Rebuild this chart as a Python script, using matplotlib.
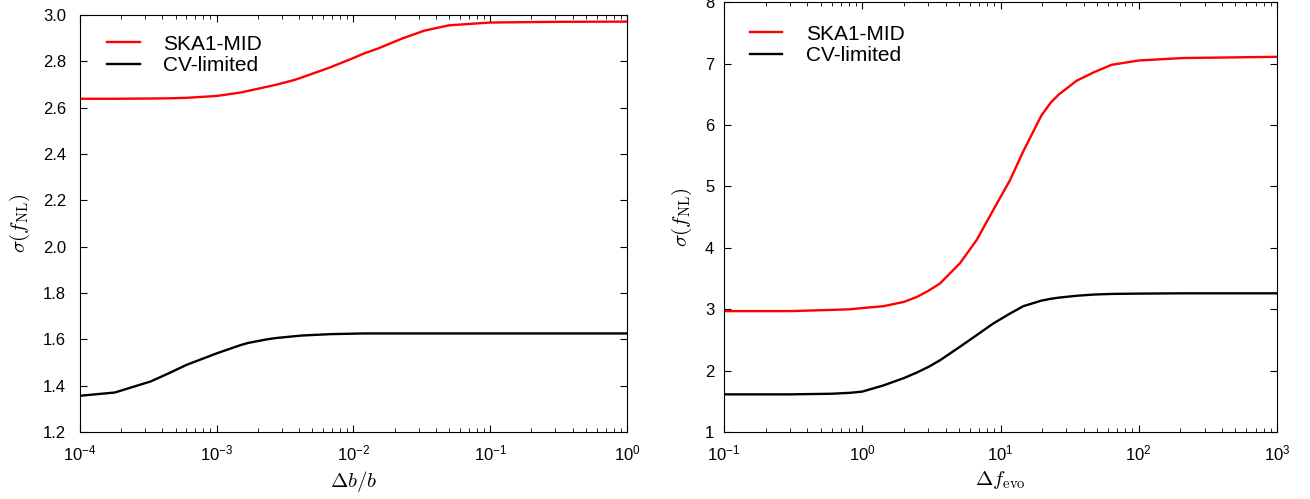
import matplotlib
matplotlib.use("Agg")
import matplotlib.pyplot as plt
from matplotlib.ticker import FuncFormatter, NullLocator
import numpy as np

plt.rcParams['font.family'] = ['Liberation Sans', 'DejaVu Sans']
plt.rcParams['mathtext.fontset'] = 'cm'

# left panel: sigma(fNL) vs Delta b / b
db_x = [1.0e-4, 1.8e-4, 3.3e-4, 4.5e-4, 6.0e-4, 1.0e-3, 1.5e-3, 1.7e-3, 2.3e-3,
        2.7e-3, 3.7e-3, 4.2e-3, 6.8e-3, 1.0e-2, 1.2e-2, 1.5e-2, 2.27e-2, 3.3e-2,
        5.0e-2, 1.0e-1, 3.0e-1, 1.0]
db_ska = [2.639, 2.639, 2.640, 2.641, 2.643, 2.651, 2.666, 2.673, 2.690,
          2.699, 2.720, 2.731, 2.775, 2.815, 2.835, 2.855, 2.899, 2.933,
          2.956, 2.968, 2.971, 2.972]
db_cv = [1.357, 1.371, 1.419, 1.455, 1.490, 1.540, 1.576, 1.585, 1.600,
         1.606, 1.614, 1.617, 1.623, 1.625, 1.626, 1.626, 1.626, 1.626,
         1.626, 1.626, 1.626, 1.626]

# right panel: sigma(fNL) vs Delta f_evo
fe_x = [0.1, 0.3, 0.6, 0.815, 1.0, 1.42, 2.0, 2.48, 3.0, 3.65, 5.09, 6.73, 8.88,
        11.7, 14.6, 19.7, 23.0, 26.5, 35.5, 47.5, 63.6, 100.0, 207.0, 1000.0]
fe_ska = [2.97, 2.97, 2.99, 3.00, 3.02, 3.05, 3.12, 3.20, 3.30, 3.42, 3.75, 4.13, 4.62,
          5.10, 5.57, 6.15, 6.36, 6.50, 6.72, 6.86, 6.98, 7.05, 7.09, 7.11]
fe_cv = [1.615, 1.615, 1.625, 1.64, 1.66, 1.76, 1.88, 1.97, 2.06, 2.17, 2.39, 2.58, 2.77,
         2.93, 3.05, 3.14, 3.17, 3.19, 3.22, 3.24, 3.25, 3.255, 3.26, 3.26]

labels = ["SKA1-MID", "CV-limited"]
colors = ["red", "black"]


def pow_fmt(v, pos):
    e = int(round(np.log10(v)))
    return r"$\mathregular{10^{%d}}$" % e


def style(ax, ypad):
    ax.set_xscale("log")
    ax.tick_params(which="both", direction="in", top=True, right=True, labelsize=12)
    ax.tick_params(which="major", length=5)
    ax.tick_params(which="minor", length=3)
    ax.xaxis.set_major_formatter(FuncFormatter(pow_fmt))
    ax.yaxis.set_minor_locator(NullLocator())
    ax.tick_params(axis="x", pad=8)
    ax.tick_params(axis="y", pad=ypad)


def add_legend(ax, anchor):
    ax.legend(loc="upper left", bbox_to_anchor=anchor, borderaxespad=0,
              frameon=False, fontsize=15, handlelength=1.57, handletextpad=1.12,
              labelspacing=0.13)


fig = plt.figure(figsize=(13.1, 4.99), dpi=100)

# left
ax1 = fig.add_axes([0.061, 0.134, 0.4176, 0.8357])
ax1.plot(db_x, db_ska, color=colors[0], lw=1.7, label=labels[0])
ax1.plot(db_x, db_cv, color=colors[1], lw=1.7, label=labels[1])
ax1.set_xlim(1e-4, 1)
ax1.set_ylim(1.2, 3.0)
ax1.set_yticks(np.arange(1.2, 3.01, 0.2))
ax1.yaxis.set_major_formatter(FuncFormatter(lambda v, p: "%.1f" % v))
style(ax1, 10)
ax1.set_xlabel(r"$\Delta b/b$", fontsize=15)
ax1.set_ylabel(r"$\sigma(f_{\rm NL})$", fontsize=15, labelpad=8)
add_legend(ax1, (0.0345, 0.973))

# right
ax2 = fig.add_axes([0.5527, 0.134, 0.4221, 0.8617])
ax2.plot(fe_x, fe_ska, color=colors[0], lw=1.7, label=labels[0])
ax2.plot(fe_x, fe_cv, color=colors[1], lw=1.7, label=labels[1])
ax2.set_xlim(0.1, 1000)
ax2.set_ylim(1, 8)
ax2.set_yticks(range(1, 9))
style(ax2, 7)
ax2.set_xlabel(r"$\Delta f_{\rm evo}$", fontsize=15)
ax2.set_ylabel(r"$\sigma(f_{\rm NL})$", fontsize=15, labelpad=8)
add_legend(ax2, (0.0315, 0.967))

fig.savefig("out.png", dpi=100)
